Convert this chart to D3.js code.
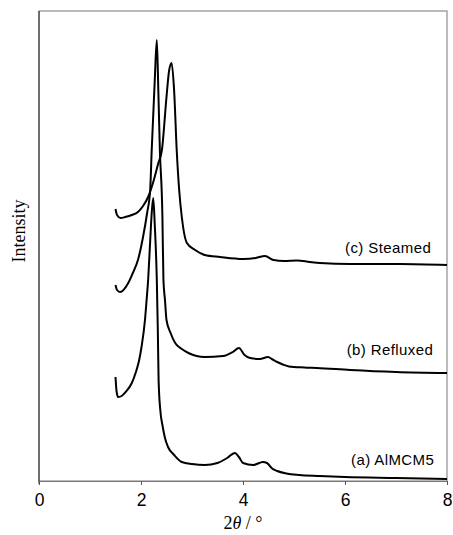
<!DOCTYPE html>
<html>
<head>
<meta charset="utf-8">
<script src="https://cdn.jsdelivr.net/npm/d3@7"></script>
<style>
  body { margin: 0; background: #fff; }
  svg { display: block; }
</style>
</head>
<body>
<div id="chart"></div>
<script>
// Data: 2theta (deg) and intensity (arbitrary units, offset traces)
const aTheta = [1.50, 1.52, 1.55, 1.62, 1.70, 1.82, 1.90, 1.96, 2.01, 2.08, 2.11, 2.14, 2.18, 2.21, 2.24, 2.27, 2.31, 2.33, 2.345, 2.38, 2.42, 2.47, 2.53, 2.65, 2.80, 3.00, 3.25, 3.50, 3.69, 3.84, 3.92, 4.00, 4.20, 4.39, 4.47, 4.56, 4.67, 4.85, 5.10, 5.50, 6.00, 7.00, 8.00];
const aInt   = [104, 90, 84, 85, 89, 98, 109, 120, 134, 162, 181, 201, 240, 268, 283, 256, 201, 150, 101, 70, 56, 43, 34, 26, 19, 17, 16, 18, 23, 28, 24, 18, 16, 19, 18, 13, 10, 7.5, 6, 5, 4, 3, 2];

const bTheta = [1.50, 1.53, 1.59, 1.75, 1.84, 1.94, 2.04, 2.12, 2.18, 2.21, 2.27, 2.31, 2.34, 2.37, 2.42, 2.44, 2.47, 2.50, 2.58, 2.67, 2.80, 2.93, 3.25, 3.61, 3.80, 3.92, 4.03, 4.14, 4.33, 4.49, 4.58, 4.67, 4.78, 4.90, 5.20, 5.45, 6.10, 7.00, 8.00];
const bInt   = [196, 191, 189, 198, 208, 221, 244, 268, 291, 331, 401, 441, 390, 331, 264, 201, 181, 161, 148, 138, 132, 128, 124, 125, 129, 133, 126, 123, 122, 124, 121.5, 119, 116.5, 114.5, 113.5, 113, 111, 109, 108];

const cTheta = [1.50, 1.53, 1.60, 1.69, 1.82, 1.94, 2.04, 2.14, 2.24, 2.34, 2.41, 2.50, 2.55, 2.60, 2.65, 2.70, 2.75, 2.80, 2.90, 3.06, 3.25, 3.55, 4.00, 4.25, 4.43, 4.60, 4.80, 5.06, 5.31, 5.51, 6.10, 7.08, 8.00];
const cInt   = [272, 266, 263, 264, 266, 269, 275, 284, 299, 318, 331, 384, 410, 418, 390, 331, 290, 264, 238, 231, 226, 224, 222, 223, 225, 221, 220, 220.5, 219, 218, 217, 217, 216];

const traceLabels = ["(a) AlMCM5", "(b) Refluxed", "(c) Steamed"];
const xTicks = [0, 2, 4, 6, 8];

const width = 453, height = 535;
const margin = { top: 11, right: 6, bottom: 54, left: 39 };

const svg = d3.select("#chart")
  .append("svg")
  .attr("width", width)
  .attr("height", height);

// Scales
const x = d3.scaleLinear()
  .domain([0, 8])
  .range([margin.left, width - margin.right]);

const y = d3.scaleLinear()
  .domain([0, 470])
  .range([height - margin.bottom, margin.top]);

// Frame
svg.append("rect")
  .attr("x", x(0))
  .attr("y", y(470))
  .attr("width", x(8) - x(0))
  .attr("height", y(0) - y(470))
  .attr("fill", "none")
  .attr("stroke", "#777")
  .attr("stroke-width", 1);

svg.append("line")
  .attr("x1", x(0)).attr("x2", x(0))
  .attr("y1", y(470)).attr("y2", y(0) + 3)
  .attr("stroke", "#222")
  .attr("stroke-width", 1);

// X axis
const xAxis = svg.append("g")
  .attr("transform", `translate(0,${y(0)})`)
  .call(d3.axisBottom(x).tickValues(xTicks).tickSize(4).tickSizeOuter(0).tickPadding(9));

xAxis.select(".domain").attr("stroke", "#777");
xAxis.selectAll(".tick line").attr("stroke", "#555");
xAxis.selectAll("text")
  .attr("font-family", "'Liberation Sans', Arial, sans-serif")
  .attr("font-size", "17.5px")
  .attr("fill", "#000");

// Axis labels
const xLabel = svg.append("text")
  .attr("x", x(4))
  .attr("y", 529)
  .attr("text-anchor", "middle")
  .attr("font-family", "'Liberation Serif', 'Times New Roman', serif")
  .attr("font-size", "18px");
xLabel.append("tspan").text("2");
xLabel.append("tspan").attr("font-style", "italic").text("θ");
xLabel.append("tspan").text(" / °");

svg.append("text")
  .attr("transform", `translate(24.5,${231}) rotate(-90)`)
  .attr("text-anchor", "middle")
  .attr("font-family", "'Liberation Serif', 'Times New Roman', serif")
  .attr("font-size", "18px")
  .text("Intensity");

// Traces
const line = d3.line()
  .x(d => x(d[0]))
  .y(d => y(d[1]))
  .curve(d3.curveMonotoneX);

const traces = [
  d3.zip(aTheta, aInt),
  d3.zip(bTheta, bInt),
  d3.zip(cTheta, cInt)
];

svg.selectAll(".trace")
  .data(traces)
  .enter()
  .append("path")
  .attr("class", "trace")
  .attr("fill", "none")
  .attr("stroke", "#000")
  .attr("stroke-width", 2)
  .attr("stroke-linejoin", "round")
  .attr("d", line);

// Trace labels, placed just above each trace's tail
const labelPos = [
  { tx: 7.75, ty: 16 },
  { tx: 7.73, ty: 126 },
  { tx: 7.69, ty: 228 }
];

svg.selectAll(".trace-label")
  .data(traceLabels)
  .enter()
  .append("text")
  .attr("class", "trace-label")
  .attr("x", (d, i) => x(labelPos[i].tx))
  .attr("y", (d, i) => y(labelPos[i].ty))
  .attr("text-anchor", "end")
  .attr("font-family", "'Liberation Sans', Arial, sans-serif")
  .attr("font-size", "15px")
  .attr("letter-spacing", "0.4px")
  .attr("fill", "#000")
  .text(d => d);
</script>
</body>
</html>
